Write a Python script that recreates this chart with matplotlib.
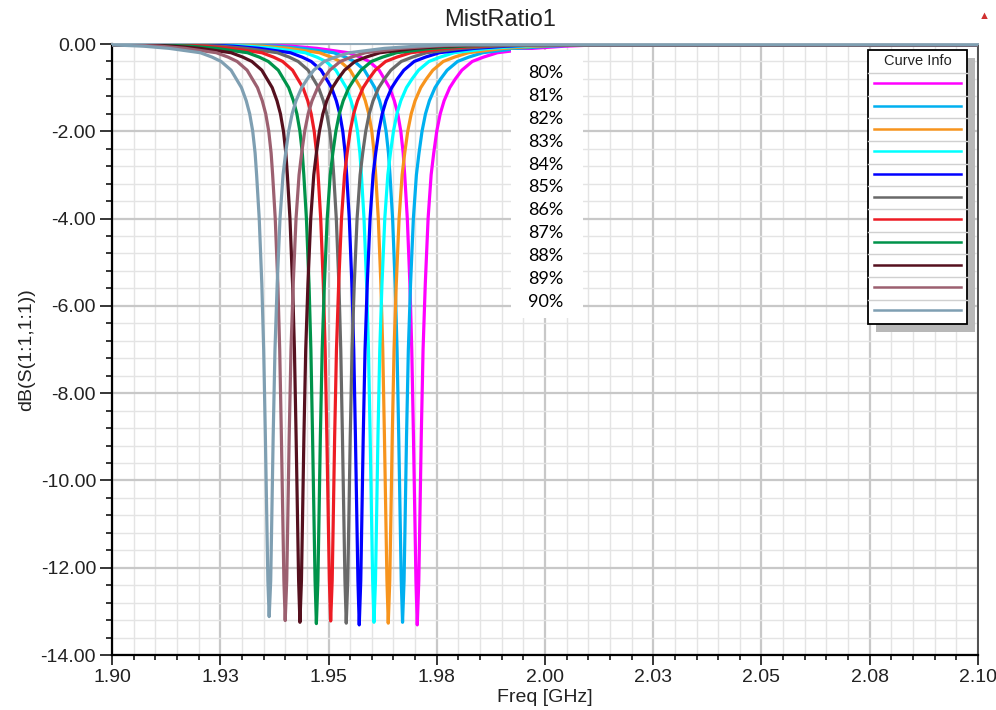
import numpy as np
import matplotlib.pyplot as plt
from matplotlib.patches import Rectangle
from matplotlib.lines import Line2D

# ---------------- data ----------------
labels = ['80%', '81%', '82%', '83%', '84%', '85%', '86%', '87%', '88%', '89%', '90%']
colors = ['#FF00FF', '#00B0F0', '#F7941D', '#00FFFF', '#0000FF', '#696969',
          '#ED1C24', '#00934A', '#55101E', '#9C6070', '#7F9FB2']

# resonance frequency (GHz) and depth (dB) of each curve
f_center = [1.9705, 1.9671, 1.9638, 1.9605, 1.9571, 1.9541,
            1.9505, 1.9472, 1.9434, 1.9400, 1.9363]
s_min = [-13.31, -13.25, -13.27, -13.25, -13.31, -13.27,
         -13.22, -13.28, -13.25, -13.21, -13.12]

# common dip shape: dB level vs. offset from the centre (MHz), left and right arm
prof_db = [-0.01, -0.02, -0.05, -0.10, -0.20, -0.30, -0.40, -0.60, -0.80,
           -1.00, -1.30, -1.60, -2.00, -2.50, -3.00, -4.00, -5.50, -7.00,
           -9.00, -11.00, -12.30]
prof_left = [-300.0, -36.3, -29.0, -23.1, -15.9, -13.2, -11.1, -8.8, -7.6,
             -6.4, -5.3, -4.5, -3.8, -3.25, -2.9, -2.3, -1.7, -1.27,
             -0.88, -0.53, -0.30]
prof_right = [300.0, 41.6, 34.0, 26.6, 18.5, 15.3, 12.7, 10.3, 8.8,
              7.5, 6.2, 5.3, 4.5, 3.8, 3.2, 2.5, 1.85, 1.34,
              0.92, 0.58, 0.35]

xticks = [1.90, 1.925, 1.95, 1.975, 2.00, 2.025, 2.05, 2.075, 2.10]
xticklabels = ['1.90', '1.93', '1.95', '1.98', '2.00', '2.03', '2.05', '2.08', '2.10']
yticks = [0, -2, -4, -6, -8, -10, -12, -14]

W, H = 996, 710
plt.rcParams['font.family'] = ['Liberation Sans', 'DejaVu Sans']

fig = plt.figure(figsize=(W / 100, H / 100), dpi=100)
ax = fig.add_axes([112 / W, 1 - 655 / H, 866 / W, 611 / H])


def fp(x, y):
    # figure pixel -> figure fraction
    return (x / W, 1 - y / H)


for i in range(len(labels)):
    fl = [f_center[i] + d / 1000.0 for d in prof_left]
    fr = [f_center[i] + d / 1000.0 for d in prof_right]
    f = fl + [f_center[i]] + fr[::-1]
    s = prof_db + [s_min[i]] + prof_db[::-1]
    ax.plot(f, s, color=colors[i], lw=2.3, solid_joinstyle='round', zorder=3)

ax.set_xlim(1.90, 2.10)
ax.set_ylim(-14, 0)
ax.set_xticks(xticks)
ax.set_xticklabels(xticklabels)
ax.set_xticks(np.arange(1.90, 2.1001, 0.005), minor=True)
ax.set_yticks(yticks)
ax.set_yticklabels(['%.2f' % v for v in yticks])
ax.set_yticks(np.arange(-14, 0.001, 0.4), minor=True)

ax.grid(which='major', color='#C8C8C8', lw=1.6, zorder=1)
ax.grid(which='minor', color='#E4E4E4', lw=1.0, zorder=0)
ax.set_axisbelow(True)

ax.tick_params(axis='x', which='major', direction='out', length=7, width=1.1,
               labelsize=14, pad=3, colors='black', labelcolor='#222222')
ax.tick_params(axis='x', which='minor', direction='out', length=3.6, width=1.1)
ax.tick_params(axis='y', which='major', direction='out', length=8.5, width=1.1,
               labelsize=14, pad=3, labelcolor='#222222')
ax.tick_params(axis='y', which='minor', direction='out', length=4.3, width=1.1)

for side in ['left', 'bottom']:
    ax.spines[side].set_linewidth(1.6)
    ax.spines[side].set_color('black')
ax.spines['right'].set_color('#505050')
ax.spines['right'].set_linewidth(1.4)
ax.spines['top'].set_color('#8FA8B8')
ax.spines['top'].set_linewidth(1.4)

ax.set_xlabel('Freq [GHz]', fontsize=14, labelpad=2, color='#222222')
ax.set_ylabel('dB(S(1:1,1:1))', fontsize=14, labelpad=4, color='#222222')
fig.text(*fp(500, 20), 'MistRatio1', fontsize=17, ha='center', va='center', color='#222222')
fig.text(*fp(984, 16), '\u25b2', fontsize=8, ha='center', va='center', color='#D03030')

# white label box with percentages
x0, y0 = fp(511, 318)
x1, y1 = fp(583, 50)
fig.add_artist(Rectangle((x0, y0), x1 - x0, y1 - y0, transform=fig.transFigure,
                         facecolor='white', edgecolor='none', zorder=5))
for i, lab in enumerate(labels):
    fig.text(*fp(546, 73 + i * 22.9), lab, fontsize=13, family=['Lato', 'DejaVu Sans'],
             ha='center', va='center', color='black', zorder=6)

# "Curve Info" legend box
lx0, lx1, ly0, ly1 = 868, 967, 50, 324
sx, sy = fp(lx0 + 8, ly1 + 8)
fig.add_artist(Rectangle((sx, sy), (lx1 - lx0) / W, (ly1 - ly0) / H, transform=fig.transFigure,
                         facecolor='#B8B8B8', edgecolor='none', zorder=5))
bx, by = fp(lx0, ly1)
fig.add_artist(Rectangle((bx, by), (lx1 - lx0) / W, (ly1 - ly0) / H, transform=fig.transFigure,
                         facecolor='white', edgecolor='black', lw=1.3, zorder=6))
fig.text(*fp((lx0 + lx1) / 2, 61), 'Curve Info', fontsize=10.5, ha='center', va='center',
         color='#222222', zorder=7)
row_h = 22.65
sep_y = [73 + k * row_h for k in range(len(labels))]
for y in sep_y:
    fig.add_artist(Line2D([fp(lx0, y)[0], fp(lx1, y)[0]], [fp(lx0, y)[1]] * 2,
                          transform=fig.transFigure, color='#D0D0D0', lw=1.0, zorder=7))
for i in range(len(labels)):
    y = 83.3 + i * row_h
    fig.add_artist(Line2D([fp(874, y)[0], fp(961, y)[0]], [fp(874, y)[1]] * 2,
                          transform=fig.transFigure, color=colors[i], lw=1.8, zorder=8))

fig.savefig('out.png', dpi=100)
